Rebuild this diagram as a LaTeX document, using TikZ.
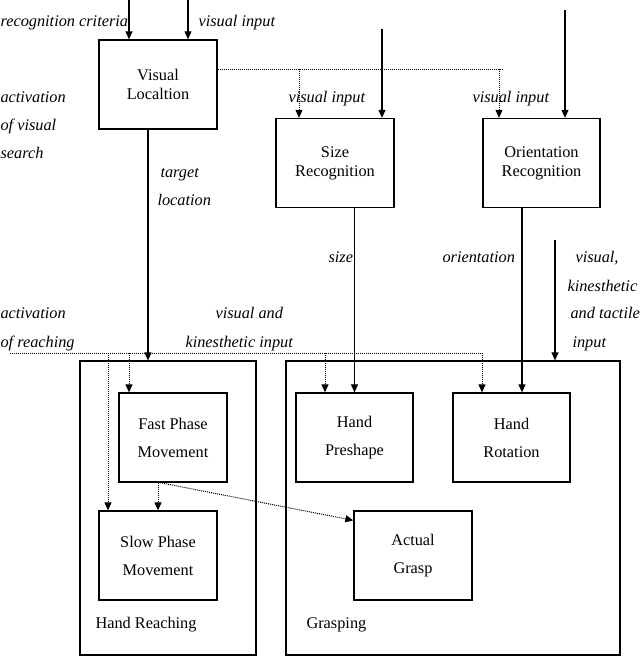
\documentclass[tikz,border=0pt]{standalone}
\usepackage{fontspec}
\setmainfont{Liberation Serif}
\usetikzlibrary{
	arrows.meta,
	positioning
}
\tikzset{
	blk/.style={draw,line width=1.3pt,minimum width=118pt,minimum height=89pt,align=center,inner sep=0pt},
	grp/.style={draw,line width=1.2pt,inner sep=0pt},
	lbl/.style={font=\fontsize{16.3}{19}\selectfont\itshape,anchor=base west,inner sep=0pt},
	ttl/.style={anchor=base west,inner sep=0pt},
	dots/.style={line width=1pt,dash pattern=on 1pt off 1pt}
}

\begin{document}
\begin{tikzpicture}[x=1pt,y=-1pt,>={Triangle[length=8pt,width=7pt]},font=\fontsize{16.3}{19}\selectfont,line width=1.1pt]
		\useasboundingbox (0,0) rectangle (640,657);
		
		% groups
		\node[grp,minimum width=176pt,minimum height=294pt] (reach) at (168,508) {};
		\node[grp,minimum width=334pt,minimum height=294pt] (grasping) at (453,508) {};
		\node[ttl] (reachlbl) at (95,628) {Hand Reaching};
		\node[ttl] (grasplbl) at (306,628) {Grasping};
		
		% boxes
		\node[blk] (vis) at (158,84.5) {Visual\\Localtion};
		\node[blk] (size) at (335,163) {Size\\Recognition};
		\node[blk,minimum width=117pt] (orient) at (541.5,163) {Orientation\\Recognition};
		\node[blk,minimum width=108pt] (fast) at (173,437.5) {Fast Phase\\[9pt]Movement};
		\node[blk] (slow) at (158,555.5) {Slow Phase\\[9pt]Movement};
		\node[blk,minimum width=117pt] (pre) at (354.5,437.5) {Hand\\[9pt]Preshape};
		\node[blk,minimum width=117pt] (rot) at (511.5,437.5) {Hand\\[9pt]Rotation};
		\node[blk] (grasp) at (413,555.5) {Actual\\[9pt]Grasp};
		
		% outside inputs
		\coordinate (crit) at (129,0);
		\coordinate (vin) at (188,0);
		\coordinate (szin) at (382,29);
		\coordinate (orin) at (565,10);
		\coordinate (tact) at (555,240);
		\draw[->] (crit) -- (crit |- vis.north);
		\draw[->] (vin) -- (vin |- vis.north);
		\draw[->] (szin) -- (szin |- size.north);
		\draw[->] (orin) -- (orin |- orient.north);
		\draw[->] (tact) -- (tact |- grasping.north);
		
		% visual input from localtion
		\coordinate (vsplit) at (502,69);
		\coordinate (vsz) at (299,69);
		\coordinate (vor) at (499,69);
		\draw[dots] (vis.east |- vsplit) -- (vsplit);
		\draw[dots,->] (vsz) -- (vsz |- size.north);
		\draw[dots,->] (vor) -- (vor |- orient.north);
		
		% recognition to hand
		\draw[->] (148,0 |- vis.south) -- (148,0 |- reach.north);
		\draw[->] (pre.north |- size.south) -- (pre.north);
		\draw[->] (522,0 |- orient.south) -- (522,0 |- rot.north);
		
		% activation of reaching
		\coordinate (act) at (10,353);
		\coordinate (actend) at (482,353);
		\draw[dots] (act) -- (actend);
		\foreach \x/\b in {108/slow,129/fast,325/pre,482/rot}
		\draw[dots,->] (\x,353) -- (\x,353 |- \b.north);
		
		\draw[dots,->] (158,0 |- fast.south) -- (158,0 |- slow.north);
		\draw[dots,->] (160,0 |- fast.south) -- ([yshift=-10pt]grasp.north west);
		
		% labels
		\node[lbl] (l1) at (0,26) {recognition criteria};
		\node[lbl] (l2) at (198,26) {visual input};
		\node[lbl] (l3) at (0,102) {activation};
		\node[lbl] (l4) at (0,130) {of visual};
		\node[lbl] (l5) at (0,158) {search};
		\node[lbl] (l6) at (288,102) {visual input};
		\node[lbl] (l7) at (472,102) {visual input};
		\node[lbl] (l8) at (160,177) {target};
		\node[lbl] (l9) at (157,205) {location};
		\node[lbl] (l10) at (328,262) {size};
		\node[lbl] (l11) at (442,262) {orientation};
		\node[lbl] (l12) at (575,262) {visual,};
		\node[lbl] (l13) at (567,291) {kinesthetic};
		\node[lbl] (l14) at (570,318) {and tactile};
		\node[lbl] (l15) at (572,347) {input};
		\node[lbl] (l16) at (0,318) {activation};
		\node[lbl] (l17) at (0,347) {of reaching};
		\node[lbl] (l18) at (215,318) {visual and};
		\node[lbl] (l19) at (185,347) {kinesthetic input};
		
	\end{tikzpicture}
\end{document}
